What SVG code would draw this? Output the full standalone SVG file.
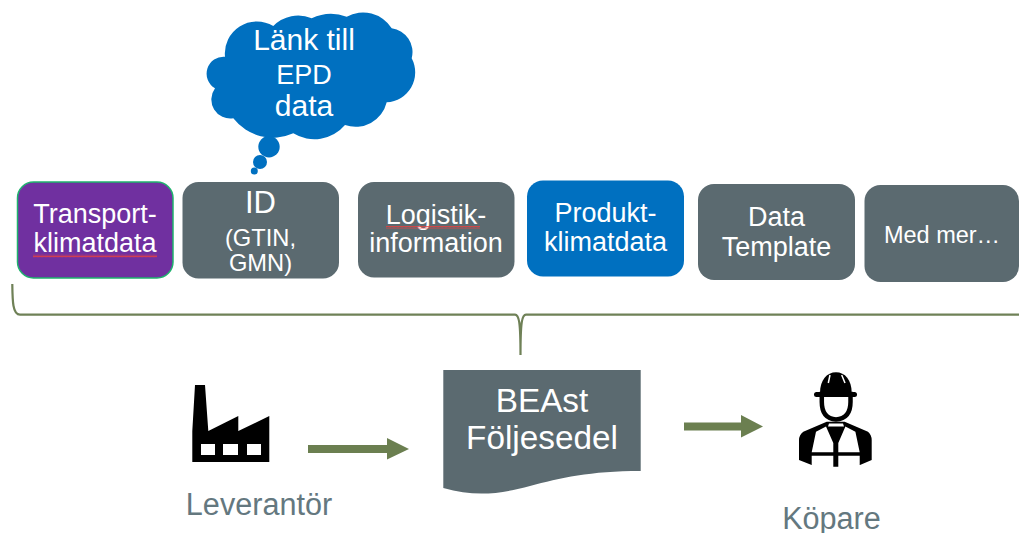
<svg xmlns="http://www.w3.org/2000/svg" width="1019" height="533" viewBox="0 0 1019 533">
<style>
text{font-family:"Liberation Sans",Arial,sans-serif;text-anchor:middle;fill:#fff;font-size:27px}
.grey{fill:#5b6a70}
.lab{fill:#64787f;font-size:30.600px}
.big{font-size:33.300px}
.arrow{fill:#6b7f50}
.small{font-size:23.700px}
.cl{font-size:30px}
</style>
<defs>
<pattern id="wavy" width="4" height="3" patternUnits="userSpaceOnUse"><path d="M0 2.500 L1 0.500 L2 2.500 L3 0.500 L4 2.500" fill="none" stroke="#e8403f" stroke-width="0.8"/></pattern>
</defs>
<rect width="1019" height="533" fill="#fff"/>
<g id="connectors">
<path d="M12.300 284C12.500 300 12.500 314.600 20 314.600H515C519 314.600 520.500 322 520.500 355C520.500 322 522 314.600 526 314.600H1019" fill="none" stroke="#6f8157" stroke-width="2.200"/>
<polygon class="arrow" points="308,445 387,445 387,438 409,449 387,459.500 387,453 308,453"/>
<polygon class="arrow" points="684,422.500 741,422.500 741,415 763,426.500 741,437.500 741,430.500 684,430.500"/>
</g>
<g id="cloud">
<path fill="#0070c0" d="M225 56.700A32 32 0 0 1 273.300 26A35 35 0 0 1 311.700 18.300A44 44 0 0 1 346.700 16.700A34 34 0 0 1 391.700 28.300A24 24 0 0 1 411.700 58.300A30 30 0 0 1 386.700 102.300A32 32 0 0 1 345 125A40 40 0 0 1 293.300 133.300A50 50 0 0 1 233.300 118.300A19 19 0 0 1 215 88.300A17 17 0 0 1 225 56.700Z"/>
<circle cx="269" cy="146.700" r="10.700" fill="#0070c0"/>
<circle cx="260" cy="162" r="7" fill="#0070c0"/>
<circle cx="254.300" cy="171" r="3.500" fill="#0070c0"/>
<text class="cl" x="304" y="50">Länk till</text>
<text x="304" y="83.500">EPD</text>
<text class="cl" x="304" y="116">data</text>
</g>
<g id="transport">
<rect x="17.500" y="182" width="155.500" height="96" rx="16" fill="#7030a0" stroke="#1fb36e" stroke-width="1.500"/>
<text x="95" y="223">Transport-</text>
<text x="95" y="252">klimatdata</text>
<rect x="33" y="254.500" width="124" height="3" fill="url(#wavy)"/>
</g>
<g id="id">
<rect x="182.500" y="182" width="156.500" height="96.500" rx="16" class="grey"/>
<text x="260.500" y="212.500" style="font-size:31px">ID</text>
<text class="small" x="260.500" y="246">(GTIN,</text>
<text class="small" x="260.500" y="271">GMN)</text>
</g>
<g id="logistik">
<rect x="358" y="182" width="156.500" height="95.500" rx="16" class="grey"/>
<text x="436" y="224">Logistik-</text>
<text x="436" y="252.300">information</text>
<rect x="386" y="226" width="94" height="3" fill="url(#wavy)"/>
</g>
<g id="produkt">
<rect x="527" y="180.500" width="157" height="96" rx="16" fill="#0070c0"/>
<text x="605.500" y="221.700">Produkt-</text>
<text x="605.500" y="251">klimatdata</text>
</g>
<g id="template">
<rect x="698" y="184" width="157" height="96" rx="16" class="grey"/>
<text x="776.500" y="226">Data</text>
<text x="776.500" y="256">Template</text>
</g>
<g id="medmer">
<rect x="864.500" y="185" width="154.500" height="97" rx="16" class="grey"/>
<text x="942" y="242.700" style="font-size:23.500px">Med mer…</text>
</g>
<g id="leverantor">
<path fill="#000" fill-rule="evenodd" d="M195 385H205L208.300 431L238.300 416V431L269.300 416V462H192.300V431ZM201 444V455H215V444ZM223 444V455H238V444ZM247 444V455H261V444Z"/>
<text class="lab" x="259" y="515">Leverantör</text>
</g>
<g id="foljesedel">
<path class="grey" d="M443.300 370H640.700V471C590 471 560 478 530 486C500 494 475 497 443.300 488Z"/>
<text class="big" x="542" y="411.700">BEAst</text>
<text class="big" x="542" y="449">Följesedel</text>
</g>
<g id="kopare">
<path fill="#000" d="M826.700 421.700L803.300 431.700Q799 435 799 440V460L811.700 465H833.300V466.700H838.300V465H860L871.700 460V440Q871.700 435 868 431.700L844.700 421.700Z"/>
<path fill="#fff" d="M816 431.700L826 426.500L833.300 443V452.300H811.700ZM855.400 431.700L845.400 426.500L838.300 443V452.300H859.700ZM811.700 455.700H833.300V465H811.700ZM859.700 455.700H838.300V465H859.700ZM829 423.500H843L844 426.500H828Z"/>
<path fill="#fff" stroke="#000" stroke-width="4.500" d="M821.800 394V402Q821.800 418.500 836 419.500Q850.500 418.500 850.500 402V394Z"/>
<path fill="#000" d="M820 393C820 380 827 372.300 836 372.300C845 372.300 851.700 380 851.700 393Z"/>
<rect x="814" y="392" width="43" height="5" rx="2.500" fill="#000"/>
<path stroke="#fff" stroke-width="1.500" d="M830 375L828.300 383M841.700 375L845 383"/>
<text class="lab" x="831.500" y="529">Köpare</text>
</g>
</svg>
